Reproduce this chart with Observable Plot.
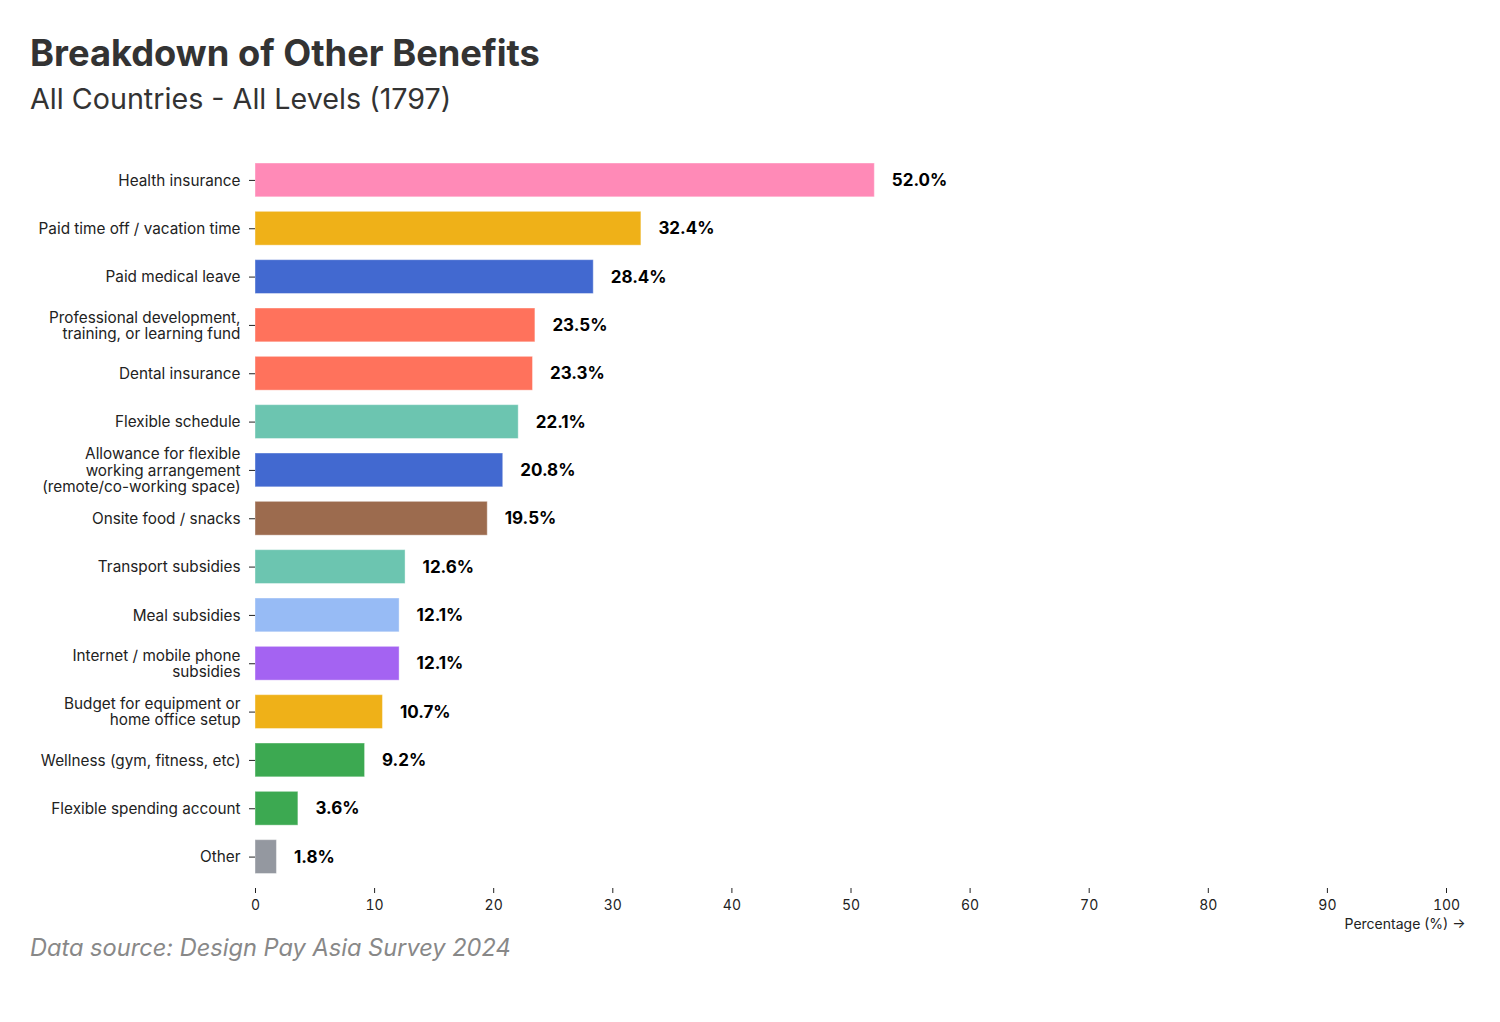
<!DOCTYPE html>
<html>
<head>
<meta charset="utf-8">
<script src="https://cdn.jsdelivr.net/npm/d3@7"></script>
<script src="https://cdn.jsdelivr.net/npm/@observablehq/plot@0.6"></script>
<style>
  html, body { margin: 0; padding: 0; background: #fff; }
  body { font-family: Inter, "Noto Sans", sans-serif; width: 1500px; height: 1022px; overflow: hidden; }
  #wrap { position: relative; }
  h1 { position: absolute; left: 30px; top: 31px; margin: 0; font-size: 36.3px; font-weight: 700; color: #333; line-height: 44px; }
  h2 { position: absolute; left: 30px; top: 81px; margin: 0; font-size: 28.7px; font-weight: 400; color: #333; line-height: 36px; }
  #chart { position: absolute; left: 0; top: 140px; }
  #caption { position: absolute; left: 30px; top: 932px; margin: 0; font-size: 23.6px; font-style: italic; color: #888; line-height: 32px; }
</style>
</head>
<body>
<div id="wrap">
  <h1>Breakdown of Other Benefits</h1>
  <h2>All Countries - All Levels (1797)</h2>
  <div id="chart"></div>
  <p id="caption">Data source: Design Pay Asia Survey 2024</p>
</div>
<script>
const categories = [
  "Health insurance",
  "Paid time off / vacation time",
  "Paid medical leave",
  "Professional development,\ntraining, or learning fund",
  "Dental insurance",
  "Flexible schedule",
  "Allowance for flexible\nworking arrangement\n(remote/co-working space)",
  "Onsite food / snacks",
  "Transport subsidies",
  "Meal subsidies",
  "Internet / mobile phone\nsubsidies",
  "Budget for equipment or\nhome office setup",
  "Wellness (gym, fitness, etc)",
  "Flexible spending account",
  "Other"
];
const values = [52.0, 32.4, 28.4, 23.5, 23.3, 22.1, 20.8, 19.5, 12.6, 12.1, 12.1, 10.7, 9.2, 3.6, 1.8];
const colors = ["#ff8ab7", "#efb118", "#4269d0", "#ff725c", "#ff725c", "#6cc5b0", "#4269d0", "#9c6b4e", "#6cc5b0", "#97bbf5", "#a463f2", "#efb118", "#3ca951", "#3ca951", "#9498a0"];
const xTicks = [0, 10, 20, 30, 40, 50, 60, 70, 80, 90, 100];

const data = categories.map((c, i) => ({category: c, value: values[i], color: colors[i]}));

const chart = Plot.plot({
  width: 1468,
  height: 798,
  marginLeft: 255,
  marginRight: 22,
  marginTop: 8.5,
  marginBottom: 50,
  style: {fontFamily: "Inter, 'Noto Sans', sans-serif", fontSize: "15px", color: "#222", background: "white"},
  x: {domain: [0, 100], ticks: xTicks, label: "Percentage (%) →", labelAnchor: "right"},
  y: {domain: categories, padding: 0.3, round: false, label: null},
  marks: [
    Plot.barX(data, {x: "value", y: "category", fill: "color", stroke: "white", strokeOpacity: 0.4, strokeWidth: 1}),
    Plot.text(data, {x: "value", y: "category", text: d => d.value.toFixed(1) + "%", dx: 17, textAnchor: "start", fontWeight: 700, fontSize: 17, fill: "#000"}),
    Plot.axisY({tickPadding: 9, fontSize: 15.3, lineHeight: 1.06, label: null}),
    Plot.axisX({ticks: xTicks, fontSize: 14, tickSize: 5, tickPadding: 7, label: "Percentage (%) →", labelAnchor: "right", labelOffset: 40})
  ]
});
document.getElementById("chart").appendChild(chart);
</script>
</body>
</html>
